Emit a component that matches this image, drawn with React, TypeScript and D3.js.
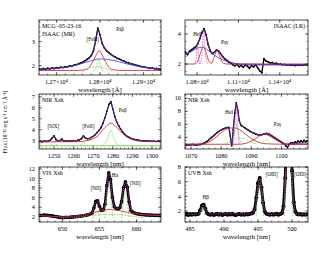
import * as d3 from "d3";

type Pt = [number, number];

const W = 330;
const H = 255;

// ISAAC medium resolution, Pa-beta region (Angstrom)
const mrStart = 12660;
const mrStep = 5;
const mrFlux = [
  1.86, 1.84, 1.88, 1.85, 1.89, 1.87, 1.91, 1.88, 1.92, 1.9,
  1.94, 1.92, 1.96, 1.94, 1.99, 1.97, 2.02, 2.04, 2.06, 2.11,
  2.14, 2.2, 2.26, 2.32, 2.42, 2.62, 3.05, 3.56, 3.28, 2.92,
  2.74, 2.62, 2.55, 2.47, 2.41, 2.36, 2.3, 2.27, 2.22, 2.19,
  2.14, 2.12, 2.08, 2.06, 2.03, 2.01, 1.99, 1.96, 1.95, 1.93,
  1.92, 1.89, 1.9, 1.87, 1.88, 1.85, 1.87,
];
const mrTotal: Pt[] = [[12660, 1.85], [12700, 1.9], [12740, 2.0], [12760, 2.12], [12775, 2.3], [12785, 2.6], [12792, 3.2], [12796, 3.52], [12800, 3.3], [12806, 2.9], [12815, 2.62], [12830, 2.4], [12850, 2.22], [12880, 2.03], [12910, 1.92], [12940, 1.86]];
const mrBroad: Pt[] = [[12660, 1.83], [12700, 1.88], [12740, 2.0], [12770, 2.15], [12800, 2.28], [12830, 2.22], [12860, 2.08], [12900, 1.93], [12940, 1.85]];
const mrRed: Pt[] = [[12660, 1.8], [12750, 1.8], [12770, 1.85], [12780, 2.05], [12790, 2.4], [12798, 2.63], [12806, 2.4], [12816, 2.05], [12826, 1.85], [12845, 1.8], [12940, 1.8]];
const mrNarrow: Pt[][] = [
  [[12785, 1.76], [12792, 1.95], [12797, 2.25], [12802, 1.95], [12809, 1.76]],
  [[12760, 1.76], [12790, 1.95], [12830, 1.76]],
];
const mrXTicks = [12700, 12800, 12900];
const mrYTicks = [2, 3];

// ISAAC low resolution, HeI / Pa-gamma (Angstrom)
const lrStart = 10715;
const lrStep = 15;
const lrFlux = [
  2.8, 2.62, 2.85, 2.95, 3.05, 3.15, 3.35, 3.7, 4.1, 4.35,
  3.95, 3.3, 2.9, 2.7, 2.78, 2.92, 2.88, 2.7, 2.5, 2.35,
  2.25, 2.12, 2.05, 1.95, 1.88, 1.98, 1.82, 1.9, 1.78, 1.95,
  1.85, 1.72, 1.9, 1.8, 1.95, 1.75, 1.55, 1.42, 2.35, 2.2,
  2.15, 2.08, 2.1, 2.02, 2.05, 1.98, 2.0, 1.95, 1.98, 1.93,
  1.96, 1.92, 1.95, 1.9, 1.94, 1.92, 1.95, 1.93, 1.96, 1.94,
];
const lrTotal: Pt[] = [[10712, 2.7], [10760, 2.85], [10800, 3.25], [10830, 3.9], [10850, 4.3], [10870, 3.7], [10890, 3.0], [10915, 2.7], [10945, 2.95], [10975, 2.6], [11010, 2.3], [11050, 2.1], [11100, 1.98], [11200, 1.93], [11605, 1.95]];
const lrBroad: Pt[] = [[10712, 2.6], [10760, 2.85], [10800, 3.05], [10835, 3.12], [10880, 2.9], [10930, 2.55], [10980, 2.3], [11040, 2.1], [11120, 2.0], [11605, 1.95]];
const lrRed: Pt[] = [[10712, 2.0], [10780, 2.0], [10805, 2.2], [10825, 2.75], [10845, 3.15], [10865, 2.75], [10885, 2.2], [10905, 2.05], [10925, 2.5], [10945, 2.9], [10965, 2.5], [10990, 2.05], [11020, 2.0], [11605, 2.0]];
const lrNarrow: Pt[][] = [
  [[10820, 2.0], [10835, 2.6], [10848, 4.25], [10861, 2.6], [10876, 2.0]],
  [[10785, 2.0], [10795, 2.6], [10802, 3.3], [10809, 2.6], [10819, 2.0]],
];
const lrXTicks = [10800, 11100, 11400];
const lrYTicks = [2, 4];

// X-shooter NIR arm, Pa-beta region (nm)
const pabStart = 1243;
const pabStep = 1;
const pabFlux = [
  2.95, 2.9, 3.0, 2.93, 2.97, 3.05, 3.25, 3.45, 3.1, 2.98,
  3.02, 3.15, 2.97, 3.0, 2.95, 3.0, 2.97, 3.02, 2.98, 3.05,
  3.08, 3.2, 3.45, 3.25, 3.18, 3.2, 3.3, 3.4, 3.55, 3.75,
  3.95, 4.2, 4.6, 5.1, 5.7, 6.3, 6.55, 5.9, 5.2, 4.7,
  4.35, 4.05, 3.8, 3.6, 3.45, 3.35, 3.25, 3.18, 3.12, 3.08,
  3.05, 3.02, 3.0, 2.98, 3.0, 2.96, 2.98, 2.95, 2.97, 2.93,
  2.96, 2.94,
];
const pabTotal: Pt[] = [[1242.3, 2.95], [1248, 3.0], [1250, 3.4], [1252, 3.0], [1262, 3.02], [1265, 3.4], [1267, 3.2], [1270, 3.4], [1273, 3.95], [1276, 5.1], [1278, 6.2], [1279, 6.5], [1280, 5.9], [1282, 4.7], [1285, 3.8], [1288, 3.35], [1292, 3.08], [1298, 2.97], [1304.6, 2.94]];
const pabRed: Pt[] = [[1242.3, 2.9], [1262, 2.92], [1268, 3.05], [1272, 3.4], [1276, 4.2], [1279, 4.6], [1282, 4.2], [1286, 3.5], [1290, 3.1], [1295, 2.95], [1304.6, 2.92]];
const pabBase: Pt[] = [[1242.3, 2.55], [1304.6, 2.55]];
const pabNarrow: Pt[][] = [
  [[1275, 2.55], [1277, 3.0], [1279, 3.95], [1281, 3.0], [1283, 2.55]],
  [[1263.5, 2.55], [1265, 2.85], [1266.5, 2.55]],
  [[1248.5, 2.55], [1250, 2.9], [1251.5, 2.55]],
];
const pabXTicks = [1250, 1260, 1270, 1280, 1290, 1300];
const pabYTicks = [3, 4, 5, 6, 7];

// X-shooter NIR arm, HeI / Pa-gamma (nm)
const heStart = 1068;
const heStep = 0.5;
const heFlux = [
  2.85, 2.8, 2.88, 2.83, 2.86, 2.9, 2.84, 2.88, 2.82, 2.9,
  2.87, 2.95, 3.05, 3.15, 3.3, 3.45, 3.65, 3.85, 4.05, 4.25,
  4.45, 4.65, 4.85, 5.0, 5.1, 5.25, 5.35, 5.45, 5.5, 5.55,
  4.2, 2.7, 5.2, 7.8, 9.3, 8.2, 6.6, 5.9, 5.7, 5.55,
  5.4, 5.25, 5.1, 4.95, 4.8, 4.7, 4.6, 4.5, 4.42, 4.38,
  4.35, 4.4, 4.48, 4.55, 4.6, 4.55, 4.45, 4.3, 4.15, 4.0,
  3.85, 3.7, 3.55, 3.4, 3.25, 3.1, 2.95, 2.65, 2.45, 2.9,
  3.1, 3.2, 3.05, 3.3, 3.15, 3.45, 3.2, 3.5, 3.25, 3.55,
  3.3, 3.45,
];
const heTotal: Pt[] = [[1068, 2.86], [1073, 2.88], [1075, 3.25], [1077, 4.0], [1079, 4.8], [1081, 5.35], [1082.5, 5.55], [1083, 4.5], [1083.5, 2.8], [1084, 5.0], [1084.6, 7.8], [1085, 9.2], [1085.5, 8.0], [1086, 6.5], [1087, 5.7], [1089, 5.1], [1091, 4.6], [1093, 4.35], [1095, 4.6], [1097, 4.15], [1099, 3.55], [1101, 2.95], [1103, 2.95], [1106, 3.1], [1108.8, 3.15]];
const heRedA: Pt[] = [[1068, 2.93], [1073, 2.95], [1076, 3.3], [1078, 3.9], [1080, 4.7], [1082, 5.3], [1084, 5.45], [1086, 5.2], [1088, 4.5], [1090, 3.8], [1092, 3.3], [1095, 3.0], [1098, 2.95], [1108.8, 2.93]];
const heRedB: Pt[] = [[1068, 2.93], [1086, 2.93], [1089, 3.2], [1091.5, 3.8], [1094, 4.5], [1096, 4.2], [1098.5, 3.5], [1101, 3.0], [1103, 2.93], [1108.8, 2.93]];
const heNarrow: Pt[][] = [
  [[1083, 2.93], [1084.3, 4.5], [1085, 6.0], [1085.7, 4.5], [1087, 2.93]],
  [[1081, 2.93], [1084, 3.6], [1087, 3.9], [1090, 3.2], [1092, 2.93]],
  [[1093.5, 2.93], [1095, 3.6], [1096.5, 2.93]],
];
const heSpike: Pt[] = [[1084, 2.93], [1084.6, 6.0], [1085, 8.9], [1085.4, 6.0], [1086, 2.93]];
const heXTicks = [1070, 1080, 1090, 1100];
const heYTicks = [4, 6, 8, 10];

// X-shooter VIS arm, H-alpha + [NII] (nm)
const visStart = 647;
const visStep = 0.25;
const visFlux = [
  2.3, 2.25, 2.33, 2.28, 2.3, 2.22, 2.18, 2.12, 2.05, 1.98,
  1.9, 1.85, 1.8, 1.82, 1.85, 1.83, 1.88, 1.92, 1.95, 1.98,
  2.02, 2.08, 2.12, 2.18, 2.25, 2.32, 2.42, 2.55, 2.8, 3.8,
  5.2, 5.35, 4.2, 3.3, 3.4, 4.6, 8.5, 11.2, 9.8, 6.0,
  4.1, 3.7, 3.65, 3.9, 5.2, 8.1, 9.3, 8.2, 5.1, 3.3,
  2.95, 2.75, 2.62, 2.55, 2.48, 2.45, 2.4, 2.38, 2.35, 2.33,
  2.32, 2.3, 2.28, 2.3, 2.27, 2.28,
];
const visTotal: Pt[] = [[646.85, 2.28], [649, 2.05], [650, 1.82], [652, 2.02], [653.5, 2.42], [654.1, 3.2], [654.5, 5.1], [654.8, 5.3], [655.1, 3.8], [655.4, 3.3], [655.8, 4.8], [656.05, 9.0], [656.25, 11.1], [656.5, 9.6], [656.75, 5.9], [657.1, 3.9], [657.5, 3.65], [657.9, 4.5], [658.2, 7.6], [658.5, 9.25], [658.8, 7.8], [659.1, 4.6], [659.5, 2.95], [660.5, 2.5], [663.3, 2.28]];
const visRed: Pt[] = [[646.85, 2.15], [650, 2.0], [652, 2.2], [654, 2.8], [655.5, 3.3], [656.3, 3.55], [657.2, 3.4], [658.5, 3.0], [660, 2.55], [662, 2.3], [663.3, 2.25]];
const visNarrow: Pt[][] = [
  [[654.1, 1.7], [654.6, 3.3], [655.1, 1.7]],
  [[655.7, 1.7], [656.25, 8.5], [656.8, 1.7]],
  [[658.0, 1.7], [658.5, 7.0], [659.0, 1.7]],
  [[651.5, 1.7], [656.3, 2.5], [661, 1.7]],
];
const visXTicks = [650, 655, 660];
const visYTicks = [2, 4, 6, 8, 10, 12];

// X-shooter UVB arm, H-beta + [OIII] (nm)
const uvbStart = 484.25;
const uvbStep = 0.25;
const uvbFlux = [
  1.5, 1.62, 1.45, 1.58, 1.48, 1.6, 1.52, 1.55, 1.62, 2.1,
  2.75, 2.85, 2.3, 1.7, 1.55, 1.48, 1.58, 1.45, 1.55, 1.62,
  1.5, 1.58, 1.46, 1.55, 1.6, 1.48, 1.57, 1.52, 1.62, 1.5,
  1.45, 1.55, 1.6, 1.5, 1.56, 1.48, 1.58, 1.52, 1.6, 1.65,
  1.75, 2.2, 3.8, 5.8, 6.5, 5.2, 3.1, 1.9, 1.62, 1.55,
  1.48, 1.58, 1.5, 1.55, 1.62, 1.5, 1.58, 1.7, 2.6, 6.5,
  14, 19, 15, 7.5, 3.2, 1.9, 1.6, 1.52, 1.58, 1.48,
  1.55, 1.5, 1.56,
];
const uvbTotal: Pt[] = [[484.26, 1.55], [486.2, 1.56], [486.5, 2.0], [486.9, 2.85], [487.3, 2.2], [487.7, 1.6], [494, 1.6], [494.5, 2.1], [494.9, 4.8], [495.25, 6.5], [495.6, 4.8], [496, 2.0], [496.5, 1.56], [498.4, 1.6], [498.8, 2.8], [499.1, 9], [499.5, 19], [499.9, 9], [500.3, 2.8], [500.7, 1.6], [502.35, 1.55]];
const uvbNarrow: Pt[][] = [
  [[486.4, 1.3], [486.9, 2.5], [487.4, 1.3]],
  [[494.7, 1.3], [495.25, 5.8], [495.8, 1.3]],
  [[498.9, 1.3], [499.5, 17], [500.1, 1.3]],
];
const uvbXTicks = [485, 490, 495, 500];
const uvbYTicks = [2, 4, 6, 8];

const RED = "#d41414";
const BLUE = "#2a3ce0";
const GREEN = "#5cc838";
const PURPLE = "#6d2aa8";
const MAGENTA = "#d23cc8";

type Curve = { pts: Pt[]; color: string; dash?: string; width?: number };
type Note = { t: string; x: number; y: number };
type Panel = {
  x: number; y: number; w: number; h: number;
  xd: Pt; yd: Pt;
  xTicks: number[]; xMinor: number; yTicks: number[]; yMinor: number;
  xFmt: (v: number) => string;
  start: number; step: number; flux: number[]; dataWidth: number;
  curves: Curve[];
  notes: Note[];
  corner: string[]; cornerRight?: boolean;
  xlabel: string;
};

const sci = (v: number) => `${(v / 1e4).toFixed(2)}×10⁴`;
const plain = (v: number) => `${v}`;
const dashed = (list: Pt[][], color: string): Curve[] => list.map(pts => ({ pts, color, dash: "1.6 1.1", width: 0.7 }));

const PH = 55;
const LX = 39, RX = 185, LW = 122, RW = 123;
const ROWS = [20, 94, 167];

const panels: Panel[] = [
  {
    x: LX, y: ROWS[0], w: LW, h: PH, xd: [12660, 12940], yd: [1.61, 3.9],
    xTicks: mrXTicks, xMinor: 20, yTicks: mrYTicks, yMinor: 0.2, xFmt: sci,
    start: mrStart, step: mrStep, flux: mrFlux, dataWidth: 1.3,
    curves: [{ pts: mrBroad, color: BLUE }, { pts: mrRed, color: RED }, ...dashed(mrNarrow, GREEN), { pts: mrTotal, color: PURPLE, width: 0.8 }],
    notes: [{ t: "[FeII]", x: 12783, y: 3.02 }, { t: "Paβ", x: 12846, y: 3.45 }],
    corner: ["MCG -05-23-16", "ISAAC (MR)"], xlabel: "wavelength [Å]",
  },
  {
    x: RX, y: ROWS[0], w: RW, h: PH, xd: [10712, 11605], yd: [1.27, 4.93],
    xTicks: lrXTicks, xMinor: 100, yTicks: lrYTicks, yMinor: 0.5, xFmt: sci,
    start: lrStart, step: lrStep, flux: lrFlux, dataWidth: 1.3,
    curves: [{ pts: lrBroad, color: BLUE }, { pts: lrRed, color: RED }, ...dashed(lrNarrow, MAGENTA), { pts: lrTotal, color: PURPLE, width: 0.8 }],
    notes: [{ t: "HeI", x: 10800, y: 3.87 }, { t: "Paγ", x: 11000, y: 3.3 }],
    corner: ["ISAAC (LR)"], cornerRight: true, xlabel: "wavelength [Å]",
  },
  {
    x: LX, y: ROWS[1], w: LW, h: PH, xd: [1242.3, 1304.6], yd: [2.25, 7.25],
    xTicks: pabXTicks, xMinor: 2, yTicks: pabYTicks, yMinor: 0.2, xFmt: plain,
    start: pabStart, step: pabStep, flux: pabFlux, dataWidth: 1.2,
    curves: [{ pts: pabBase, color: GREEN }, { pts: pabRed, color: RED }, ...dashed(pabNarrow, GREEN), { pts: pabTotal, color: PURPLE, width: 0.8 }],
    notes: [{ t: "[SIX]", x: 1249.6, y: 4.2 }, { t: "[FeII]", x: 1267.5, y: 4.16 }, { t: "Paβ", x: 1285, y: 5.6 }],
    corner: ["NIR Xsh"], xlabel: "wavelength [nm]",
  },
  {
    x: RX, y: ROWS[1], w: RW, h: PH, xd: [1068, 1108.8], yd: [2.2, 10.66],
    xTicks: heXTicks, xMinor: 2, yTicks: heYTicks, yMinor: 0.5, xFmt: plain,
    start: heStart, step: heStep, flux: heFlux, dataWidth: 1.2,
    curves: [{ pts: heRedA, color: RED }, { pts: heRedB, color: RED }, ...dashed(heNarrow, GREEN), ...dashed([heSpike], MAGENTA), { pts: heTotal, color: PURPLE, width: 0.8 }],
    notes: [{ t: "HeI", x: 1082.6, y: 7.66 }, { t: "Paγ", x: 1098.7, y: 5.74 }],
    corner: ["NIR Xsh"], xlabel: "wavelength [nm]",
  },
  {
    x: LX, y: ROWS[2], w: LW, h: PH, xd: [646.85, 663.3], yd: [0.89, 12.42],
    xTicks: visXTicks, xMinor: 1, yTicks: visYTicks, yMinor: 0.5, xFmt: plain,
    start: visStart, step: visStep, flux: visFlux, dataWidth: 2.6,
    curves: [{ pts: visRed, color: RED }, ...dashed(visNarrow, GREEN), { pts: visTotal, color: MAGENTA, dash: "1.2 1", width: 0.9 }],
    notes: [{ t: "[NII]", x: 654.53, y: 7.6 }, { t: "Hα", x: 657.1, y: 10.32 }, { t: "[NII]", x: 659.8, y: 8.65 }],
    corner: ["VIS Xsh"], xlabel: "wavelength [nm]",
  },
  {
    x: RX, y: ROWS[2], w: RW, h: PH, xd: [484.26, 502.35], yd: [0.5, 8.0],
    xTicks: uvbXTicks, xMinor: 1, yTicks: uvbYTicks, yMinor: 0.5, xFmt: plain,
    start: uvbStart, step: uvbStep, flux: uvbFlux, dataWidth: 2.9,
    curves: [...dashed(uvbNarrow, GREEN), { pts: uvbTotal, color: MAGENTA, dash: "1.2 1", width: 0.9 }],
    notes: [{ t: "Hβ", x: 487.3, y: 3.64 }, { t: "[OIII]", x: 497.0, y: 6.77 }, { t: "[OIII]", x: 501.2, y: 6.77 }],
    corner: ["UVB Xsh"], xlabel: "wavelength [nm]",
  },
];

function minorTicks(d: Pt, step: number) {
  const out: number[] = [];
  for (let v = Math.ceil(d[0] / step) * step; v <= d[1] + 1e-9; v += step) out.push(v);
  return out;
}

function PanelView({ p, id }: { p: Panel; id: number }) {
  const xs = d3.scaleLinear().domain(p.xd).range([p.x, p.x + p.w]);
  const ys = d3.scaleLinear().domain(p.yd).range([p.y + p.h, p.y]);
  const data: Pt[] = p.flux.map((f, i) => [p.start + i * p.step, f]);
  const raw = d3.line<Pt>().x(d => xs(d[0])).y(d => ys(d[1]));
  const smooth = d3.line<Pt>().x(d => xs(d[0])).y(d => ys(d[1])).curve(d3.curveMonotoneX);
  const clip = `clip-${id}`;
  const bottom = p.y + p.h;
  const right = p.x + p.w;
  return (
    <g>
      <defs>
        <clipPath id={clip}>
          <rect x={p.x} y={p.y} width={p.w} height={p.h} />
        </clipPath>
      </defs>
      <g clipPath={`url(#${clip})`}>
        <path d={raw(data) ?? ""} fill="none" stroke="#000" strokeWidth={p.dataWidth} strokeLinejoin="round" />
        {data.map((d, i) => (
          <circle key={i} cx={xs(d[0])} cy={ys(d[1])} r={p.dataWidth * 0.7} fill="#000" />
        ))}
        {p.curves.map((c, i) => (
          <path key={i} d={smooth(c.pts) ?? ""} fill="none" stroke={c.color} strokeWidth={c.width ?? 0.8} strokeDasharray={c.dash} />
        ))}
      </g>
      <rect x={p.x} y={p.y} width={p.w} height={p.h} fill="none" stroke="#000" strokeWidth={0.7} />
      <g stroke="#000" strokeWidth={0.5}>
        {minorTicks(p.xd, p.xMinor).map((v, i) => (
          <g key={`xm${i}`}>
            <line x1={xs(v)} x2={xs(v)} y1={bottom} y2={bottom - 1.5} />
            <line x1={xs(v)} x2={xs(v)} y1={p.y} y2={p.y + 1.5} />
          </g>
        ))}
        {p.xTicks.map((v, i) => (
          <g key={`xM${i}`}>
            <line x1={xs(v)} x2={xs(v)} y1={bottom} y2={bottom - 3} />
            <line x1={xs(v)} x2={xs(v)} y1={p.y} y2={p.y + 3} />
          </g>
        ))}
        {minorTicks(p.yd, p.yMinor).map((v, i) => (
          <g key={`ym${i}`}>
            <line x1={p.x} x2={p.x + 1.5} y1={ys(v)} y2={ys(v)} />
            <line x1={right} x2={right - 1.5} y1={ys(v)} y2={ys(v)} />
          </g>
        ))}
        {p.yTicks.map((v, i) => (
          <g key={`yM${i}`}>
            <line x1={p.x} x2={p.x + 3} y1={ys(v)} y2={ys(v)} />
            <line x1={right} x2={right - 3} y1={ys(v)} y2={ys(v)} />
          </g>
        ))}
      </g>
      <g fontSize={6.3} fill="#000">
        {p.xTicks.map((v, i) => (
          <text key={i} x={xs(v)} y={bottom + 8.5} textAnchor="middle">{p.xFmt(v)}</text>
        ))}
        {p.yTicks.map((v, i) => (
          <text key={i} x={p.x - 4} y={ys(v) + 2.2} textAnchor="end">{v}</text>
        ))}
      </g>
      <text x={p.x + p.w / 2} y={bottom + 16.5} textAnchor="middle" fontSize={7}>{p.xlabel}</text>
      {p.corner.map((t, i) => (
        <text key={i} x={p.cornerRight ? right - 3 : p.x + 3} y={p.y + 8 + i * 8} textAnchor={p.cornerRight ? "end" : "start"} fontSize={6}>{t}</text>
      ))}
      {p.notes.map((n, i) => (
        <text key={i} x={xs(n.x)} y={ys(n.y)} textAnchor="middle" fontSize={5.2}>{n.t}</text>
      ))}
    </g>
  );
}

export default function App() {
  return (
    <svg width={W} height={H} viewBox={`0 0 ${W} ${H}`} fontFamily="'Liberation Serif', serif"
      style={{ position: "absolute", left: 0, top: 0, background: "#fff" }}>
      <rect width={W} height={H} fill="#fff" />
      <text transform="translate(7,122) rotate(-90)" textAnchor="middle" fontSize={5.5}>
        Flux [10⁻¹⁵ erg s⁻¹ cm⁻² Å⁻¹]
      </text>
      {panels.map((p, i) => <PanelView key={i} p={p} id={i} />)}
    </svg>
  );
}
